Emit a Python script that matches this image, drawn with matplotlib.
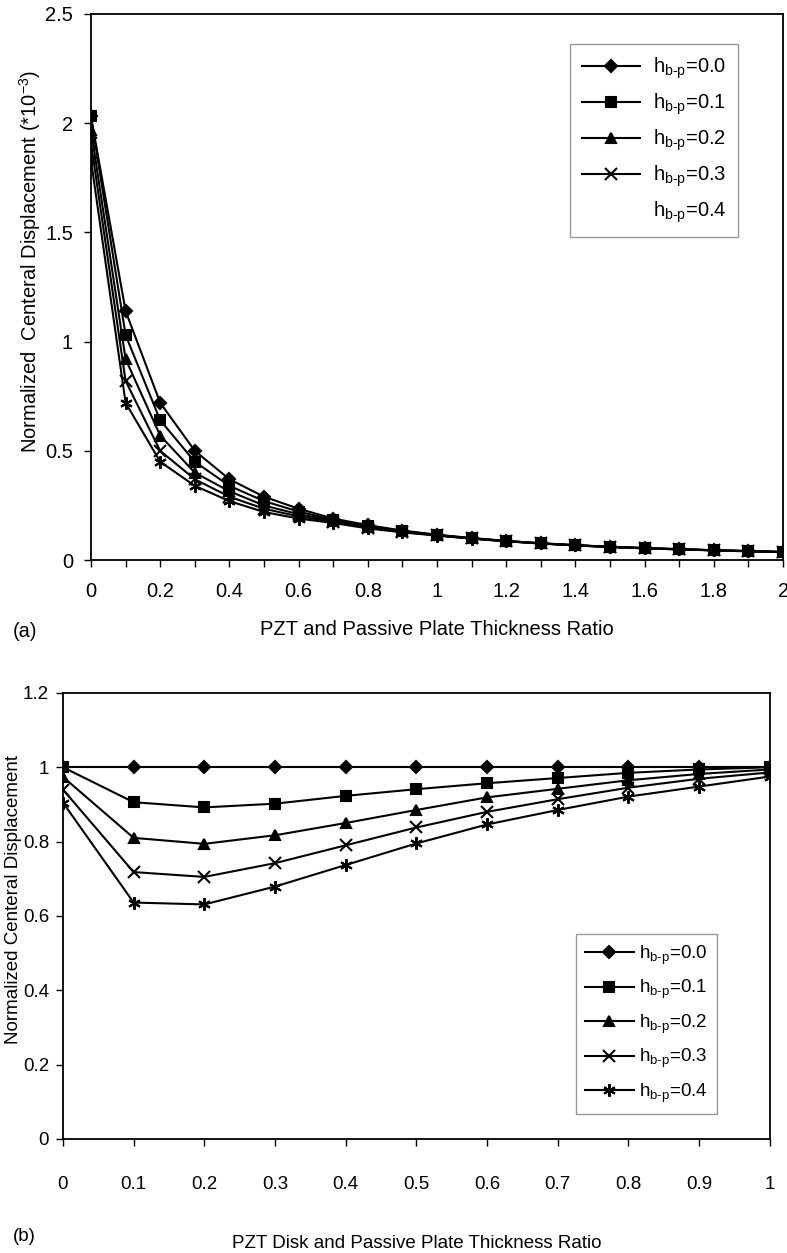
import numpy as np
import matplotlib
matplotlib.use("Agg")
import matplotlib.pyplot as plt
from matplotlib.lines import Line2D

plt.rcParams["font.family"] = ["Liberation Sans", "DejaVu Sans"]
plt.rcParams["mathtext.fontset"] = "custom"
plt.rcParams["mathtext.rm"] = "Liberation Sans"
plt.rcParams["mathtext.it"] = "Liberation Sans"

# =====================================================
# DATA (a)
# =====================================================

x_a = [0.0, 0.1, 0.2, 0.3, 0.4, 0.5, 0.6, 0.7, 0.8, 0.9, 1.0,
       1.1, 1.2, 1.3, 1.4, 1.5, 1.6, 1.7, 1.8, 1.9, 2.0]

a_h00 = [2.03, 1.14, 0.72, 0.50, 0.37, 0.29, 0.235, 0.19, 0.16, 0.135, 0.116,
         0.101, 0.088, 0.077, 0.068, 0.061, 0.055, 0.050, 0.045, 0.041, 0.037]
a_h01 = [2.03, 1.03, 0.64, 0.45, 0.34, 0.27, 0.222, 0.185, 0.155, 0.133, 0.115,
         0.100, 0.087, 0.077, 0.068, 0.061, 0.055, 0.050, 0.045, 0.041, 0.037]
a_h02 = [1.97, 0.92, 0.57, 0.40, 0.315, 0.25, 0.21, 0.18, 0.152, 0.131, 0.114,
         0.099, 0.087, 0.076, 0.068, 0.060, 0.054, 0.049, 0.045, 0.041, 0.037]
a_h03 = [1.91, 0.82, 0.50, 0.37, 0.29, 0.235, 0.20, 0.175, 0.148, 0.129, 0.113,
         0.099, 0.086, 0.076, 0.067, 0.060, 0.054, 0.049, 0.045, 0.041, 0.037]
a_h04 = [1.83, 0.72, 0.45, 0.34, 0.27, 0.22, 0.19, 0.17, 0.145, 0.127, 0.112,
         0.098, 0.086, 0.076, 0.067, 0.060, 0.054, 0.049, 0.044, 0.040, 0.036]

# =====================================================
# DATA (b)
# =====================================================

x_b = [0.0, 0.1, 0.2, 0.3, 0.4, 0.5, 0.6, 0.7, 0.8, 0.9, 1.0]

b_h00 = [1.0, 1.0, 1.0, 1.0, 1.0, 1.0, 1.0, 1.0, 1.0, 1.0, 1.0]
b_h01 = [1.0, 0.906, 0.892, 0.902, 0.923, 0.941, 0.957, 0.971, 0.985, 0.994, 1.0]
b_h02 = [0.974, 0.810, 0.794, 0.817, 0.850, 0.885, 0.919, 0.942, 0.965, 0.982, 0.994]
b_h03 = [0.940, 0.718, 0.705, 0.742, 0.790, 0.838, 0.880, 0.914, 0.945, 0.969, 0.986]
b_h04 = [0.905, 0.636, 0.631, 0.679, 0.737, 0.795, 0.846, 0.885, 0.921, 0.948, 0.975]

labels = ["0.0", "0.1", "0.2", "0.3", "0.4"]

# =====================================================
# STYLE
# =====================================================

ASTER = (6, 2, 0)
markers = ["D", "s", "^", "x", ASTER]
msizes = [6, 7.5, 7.5, 8, 9]
FS = 14.5
FSB = 13.5

def hlabel(v):
    return "h$_{\\mathregular{b\u2010p}}$=" + v

def style_axes(ax, fs):
    for s in ax.spines.values():
        s.set_linewidth(1.3)
    ax.tick_params(direction="out", length=5, width=1.0,
                   labelsize=fs, top=False, right=False, pad=11)

fig = plt.figure(figsize=(7.87, 12.53), dpi=100)

# =====================================================
# PANEL (a)
# =====================================================

ax1 = fig.add_axes([0.1156, 0.553, 0.8794, 0.436])
series_a = [a_h00, a_h01, a_h02, a_h03, a_h04]
for y, m, ms in zip(series_a, markers, msizes):
    ax1.plot(x_a, y, color="black", lw=1.5, marker=m, ms=ms,
             mew=1.5, mec="black", mfc="black")

ax1.set_xlim(0, 2)
ax1.set_ylim(0, 2.5)
ax1.set_xticks(np.arange(0, 2.01, 0.2))
ax1.set_xticks(np.arange(0, 2.01, 0.1), minor=True)
ax1.set_xticklabels(["0", "0.2", "0.4", "0.6", "0.8", "1",
                     "1.2", "1.4", "1.6", "1.8", "2"])
ax1.set_yticks([0, 0.5, 1, 1.5, 2, 2.5])
ax1.set_yticklabels(["0", "0.5", "1", "1.5", "2", "2.5"])
style_axes(ax1, FS)
ax1.tick_params(axis="y", pad=8)
ax1.tick_params(which="minor", direction="out", length=5, width=1.0,
                top=False, right=False)
ax1.set_ylabel("Normalized  Centeral Displacement (*10$^{-3}$)", fontsize=FS)
ax1.yaxis.set_label_coords(-0.07, 0.546)
ax1.set_xlabel("PZT and Passive Plate Thickness Ratio", fontsize=FS)
ax1.xaxis.set_label_coords(0.5, -0.11)

handles_a = [Line2D([], [], color="black", lw=1.5, marker=m, ms=ms,
                    mew=1.5, mfc="black")
             for m, ms in zip(markers[:4], msizes[:4])]
handles_a.append(Line2D([], [], color="none"))
leg1 = ax1.legend(handles_a, [hlabel(v) for v in labels],
                  loc="upper right", bbox_to_anchor=(0.935, 0.945),
                  borderaxespad=0,
                  fontsize=FS, frameon=True, fancybox=False,
                  edgecolor="#808080", labelspacing=0.52,
                  handlelength=2.9, borderpad=0.6, handletextpad=0.6)
leg1.get_frame().set_linewidth(1.0)

fig.text(0.016, 0.496, "(a)", fontsize=FS, va="center", ha="left")

# =====================================================
# PANEL (b)
# =====================================================

ax2 = fig.add_axes([0.080, 0.091, 0.898, 0.356])
series_b = [b_h00, b_h01, b_h02, b_h03, b_h04]
for y, m, ms in zip(series_b, markers, msizes):
    ax2.plot(x_b, y, color="black", lw=1.5, marker=m, ms=ms,
             mew=1.5, mec="black", mfc="black")

ax2.set_xlim(0, 1)
ax2.set_ylim(0, 1.2)
ax2.set_xticks(x_b)
ax2.set_xticklabels(["0", "0.1", "0.2", "0.3", "0.4", "0.5",
                     "0.6", "0.7", "0.8", "0.9", "1"])
ax2.set_yticks([0, 0.2, 0.4, 0.6, 0.8, 1.0, 1.2])
ax2.set_yticklabels(["0", "0.2", "0.4", "0.6", "0.8", "1", "1.2"])
style_axes(ax2, FSB)
ax2.tick_params(axis="y", pad=5)
ax2.tick_params(axis="x", pad=22)
ax2.set_ylabel("Normalized Centeral Displacement", fontsize=FSB)
ax2.yaxis.set_label_coords(-0.058, 0.536)
ax2.set_xlabel("PZT Disk and Passive Plate Thickness Ratio", fontsize=FSB)
ax2.xaxis.set_label_coords(0.5, -0.215)

handles_b = [Line2D([], [], color="black", lw=1.5, marker=m, ms=ms,
                    mew=1.5, mfc="black")
             for m, ms in zip(markers, msizes)]
leg2 = ax2.legend(handles_b, [hlabel(v) for v in labels],
                  loc="lower right", bbox_to_anchor=(0.926, 0.056),
                  borderaxespad=0,
                  fontsize=FSB, frameon=True, fancybox=False,
                  edgecolor="#808080", labelspacing=0.6,
                  handlelength=2.6, borderpad=0.5, handletextpad=0.3)
leg2.get_frame().set_linewidth(1.0)

fig.text(0.016, 0.006, "(b)", fontsize=FSB, va="bottom", ha="left")

fig.savefig("out.png", dpi=100)
